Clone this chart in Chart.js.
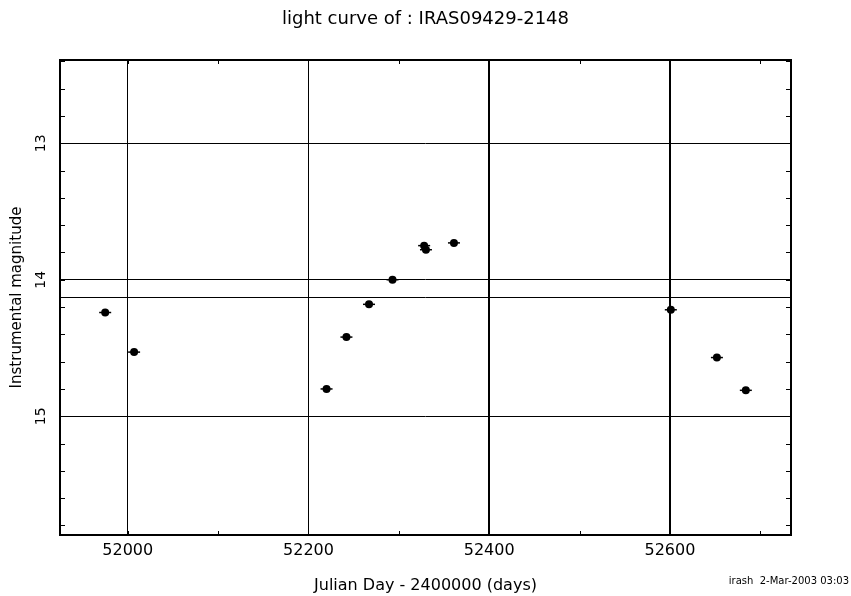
<!DOCTYPE html>
<html>
<head>
<meta charset="utf-8">
<title>light curve of : IRAS09429-2148</title>
<script src="https://cdn.jsdelivr.net/npm/chart.js@4.4.1/dist/chart.umd.min.js"></script>
<style>
  html, body { margin: 0; padding: 0; background: #fff; }
  #wrap { width: 851px; height: 596px; }
</style>
</head>
<body>
<div id="wrap"><canvas id="lightCurve" width="851" height="596"></canvas></div>
<script>
// Observations: Julian Day - 2400000 and instrumental magnitude
const julianDays = [51975, 52007, 52220, 52242, 52267, 52293, 52328, 52330, 52361, 52601, 52652, 52684];
const magnitudes = [14.24, 14.53, 14.80, 14.42, 14.18, 14.00, 13.75, 13.78, 13.73, 14.22, 14.57, 14.81];

// Axis ticks and ranges
const xTicks = [52000, 52200, 52400, 52600];
const yTicks = [13, 14, 15];
const dayRange = [51925, 52734];
const magRange = [12.39, 15.87];

// Reference level line
const meanMagnitude = 14.13;

const credit = 'irash  2-Mar-2003 03:03';

const FONT = '"DejaVu Sans", sans-serif';

const points = julianDays.map((d, i) => ({ x: d, y: magnitudes[i] }));

/**
 * Frame, inward minor ticks and credit line
 */
const frameAndTicks = {
  id: 'frameAndTicks',
  afterDatasetsDraw(chart) {
    const { ctx, chartArea: a, scales: { x, y } } = chart;
    const len = 4;
    ctx.save();
    ctx.strokeStyle = '#000';
    ctx.lineWidth = 1;
    ctx.beginPath();
    // x minor ticks every 100 days
    for (let i = Math.ceil(x.min / 100); i * 100 <= x.max; i++) {
      const px = Math.round(x.getPixelForValue(i * 100)) + 0.5;
      ctx.moveTo(px, a.bottom); ctx.lineTo(px, a.bottom - len);
      ctx.moveTo(px, a.top); ctx.lineTo(px, a.top + len);
    }
    // y minor ticks every 0.2 mag
    for (let i = Math.ceil(y.min * 5); i / 5 <= y.max; i++) {
      const py = Math.round(y.getPixelForValue(i / 5)) + 0.5;
      ctx.moveTo(a.left, py); ctx.lineTo(a.left + len + 1, py);
      ctx.moveTo(a.right, py); ctx.lineTo(a.right - len - 1, py);
    }
    ctx.stroke();

    ctx.lineWidth = 2;
    ctx.strokeRect(a.left, a.top, a.width, a.height);

    ctx.fillStyle = '#000';
    ctx.font = '10px ' + FONT;
    ctx.textAlign = 'right';
    ctx.textBaseline = 'middle';
    ctx.fillText(credit, 849, 581);
    ctx.restore();
  }
};

const chart = new Chart(document.getElementById('lightCurve'), {
  type: 'scatter',
  data: {
    datasets: [
      {
        label: 'error',
        data: points,
        pointStyle: 'line',
        pointRadius: 6,
        pointBorderWidth: 1.5,
        pointBorderColor: '#000',
        pointBackgroundColor: '#000'
      },
      {
        label: 'magnitude',
        data: points,
        pointStyle: 'circle',
        pointRadius: 4,
        pointBorderWidth: 0,
        pointBackgroundColor: '#000'
      },
      {
        type: 'line',
        label: 'level',
        data: dayRange.map(d => ({ x: d, y: meanMagnitude })),
        borderColor: '#000',
        borderWidth: 1,
        pointRadius: 0,
        fill: false
      }
    ]
  },
  options: {
    responsive: false,
    animation: false,
    layout: { padding: 0 },
    plugins: {
      legend: { display: false },
      tooltip: { enabled: false },
      title: {
        display: true,
        text: 'light curve of : IRAS09429-2148',
        color: '#000',
        font: { family: FONT, size: 18, weight: 'normal', lineHeight: 1.2 },
        padding: { top: 9, bottom: 29.4 }
      }
    },
    scales: {
      x: {
        type: 'linear',
        min: dayRange[0],
        max: dayRange[1],
        afterBuildTicks: s => { s.ticks = xTicks.map(v => ({ value: v })); },
        afterFit: s => { s.height = 61; },
        border: { display: false },
        grid: {
          color: '#000',
          lineWidth: c => (c.tick && c.tick.value >= 52400 ? 2 : 1),
          drawTicks: false
        },
        ticks: {
          color: '#000',
          padding: 6,
          maxRotation: 0,
          font: { family: FONT, size: 16 },
          callback: v => String(v)
        },
        title: {
          display: true,
          text: 'Julian Day - 2400000 (days)',
          color: '#000',
          font: { family: FONT, size: 16, lineHeight: 1.2 },
          padding: { top: 0, bottom: 1 }
        }
      },
      y: {
        type: 'linear',
        reverse: true,
        min: magRange[0],
        max: magRange[1],
        afterBuildTicks: s => { s.ticks = yTicks.map(v => ({ value: v })); },
        afterFit: s => { s.width = 60; },
        border: { display: false },
        grid: { color: '#000', lineWidth: 1, drawTicks: false },
        ticks: {
          color: '#000',
          padding: 10,
          minRotation: 90,
          maxRotation: 90,
          crossAlign: 'center',
          font: { family: FONT, size: 14 },
          callback: v => String(v)
        },
        title: {
          display: true,
          text: 'Instrumental magnitude',
          color: '#000',
          font: { family: FONT, size: 15, lineHeight: 1.2 },
          padding: { top: 8, bottom: 0 }
        }
      },
      // empty right margin so the title centres on the page
      yRight: {
        type: 'linear',
        position: 'right',
        min: magRange[0],
        max: magRange[1],
        afterFit: s => { s.width = 60; },
        border: { display: false },
        grid: { display: false },
        ticks: { display: false }
      }
    }
  },
  plugins: [frameAndTicks]
});
</script>
</body>
</html>
